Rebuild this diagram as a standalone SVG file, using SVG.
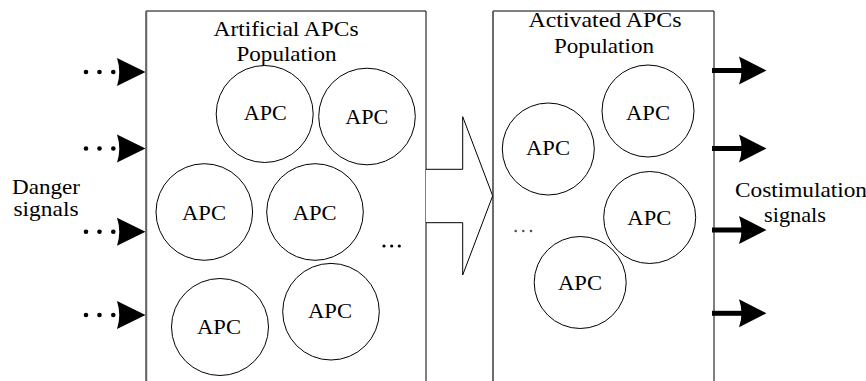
<svg xmlns="http://www.w3.org/2000/svg" width="866" height="381" viewBox="0 0 866 381">
<style>
text{font-family:'Liberation Serif','Times New Roman','DejaVu Serif',serif;font-size:21.5px;fill:#000}
.t{text-anchor:middle}
.cell{fill:#fff;stroke:#000;stroke-width:1}
.box{fill:none;stroke:#000;stroke-width:1}
.edge{stroke:#666;stroke-width:1.5;fill:none}
.dot{fill:#000}
.ah{fill:#000}
</style>
<rect width="866" height="381" fill="#fff"/>
<g id="artificial-population">
<path class="box" d="M146,382 V11 H426 V382"/>
<line class="edge" x1="146.5" y1="11" x2="146.5" y2="382"/>
<text class="t" x="286" y="36" textLength="145" lengthAdjust="spacingAndGlyphs">Artificial APCs</text>
<text class="t" x="286.5" y="61" textLength="100" lengthAdjust="spacingAndGlyphs">Population</text>
</g>
<g id="activated-population">
<path class="box" d="M493,382 V11 H714 V382"/>
<line class="edge" x1="493" y1="11" x2="493" y2="382"/>
<text class="t" x="605" y="27" textLength="153" lengthAdjust="spacingAndGlyphs">Activated APCs</text>
<text class="t" x="604" y="53" textLength="100" lengthAdjust="spacingAndGlyphs">Population</text>
</g>
<g id="apc-a1"><circle class="cell" cx="264.7" cy="114" r="48.5"/><text class="t" x="265.3" y="119.5" textLength="43" lengthAdjust="spacingAndGlyphs">APC</text></g>
<g id="apc-a2"><circle class="cell" cx="367" cy="116.5" r="48.3"/><text class="t" x="366.7" y="124" textLength="43" lengthAdjust="spacingAndGlyphs">APC</text></g>
<g id="apc-a3"><circle class="cell" cx="204.3" cy="212" r="48.3"/><text class="t" x="204" y="220" textLength="44" lengthAdjust="spacingAndGlyphs">APC</text></g>
<g id="apc-a4"><circle class="cell" cx="315" cy="212" r="48.3"/><text class="t" x="314.7" y="220" textLength="44" lengthAdjust="spacingAndGlyphs">APC</text></g>
<g id="apc-a5"><circle class="cell" cx="220" cy="327" r="48.5"/><text class="t" x="219" y="334" textLength="44" lengthAdjust="spacingAndGlyphs">APC</text></g>
<g id="apc-a6"><circle class="cell" cx="331" cy="311.7" r="48.3"/><text class="t" x="330" y="318" textLength="44" lengthAdjust="spacingAndGlyphs">APC</text></g>
<g id="more-a"><circle class="dot" cx="384" cy="246" r="1.6"/><circle class="dot" cx="391.7" cy="246" r="1.6"/><circle class="dot" cx="399.3" cy="246" r="1.6"/></g>
<g id="apc-b1"><circle class="cell" cx="648" cy="111" r="46"/><text class="t" x="648" y="120" textLength="44" lengthAdjust="spacingAndGlyphs">APC</text></g>
<g id="apc-b2"><circle class="cell" cx="548.3" cy="149" r="46"/><text class="t" x="548" y="155" textLength="44" lengthAdjust="spacingAndGlyphs">APC</text></g>
<g id="apc-b3"><circle class="cell" cx="649.7" cy="217.5" r="46"/><text class="t" x="649.3" y="225" textLength="44" lengthAdjust="spacingAndGlyphs">APC</text></g>
<g id="apc-b4"><circle class="cell" cx="580.2" cy="282.5" r="46"/><text class="t" x="580" y="290" textLength="44" lengthAdjust="spacingAndGlyphs">APC</text></g>
<g id="more-b" fill="#555"><circle cx="515.7" cy="231" r="1.3"/><circle cx="523.3" cy="231" r="1.3"/><circle cx="531" cy="231" r="1.3"/></g>
<g id="danger-label"><text class="t" x="46" y="194" textLength="68" lengthAdjust="spacingAndGlyphs">Danger</text><text class="t" x="46" y="216" textLength="65" lengthAdjust="spacingAndGlyphs">signals</text></g>
<g id="costim-label"><text class="t" x="801" y="197" textLength="132" lengthAdjust="spacingAndGlyphs">Costimulation</text><text class="t" x="795" y="222" textLength="62" lengthAdjust="spacingAndGlyphs">signals</text></g>
<g id="connectors">
<path id="transition-arrow" d="M426,169.3 H462.7 V116.7 L492.7,195.8 L462.7,275 V222.7 H426" fill="#fff" stroke="#000" stroke-width="1"/>
<g id="danger-inputs">
<g transform="translate(0,72)"><circle class="dot" cx="86" cy="0" r="2.3"/><circle class="dot" cx="99.5" cy="0" r="2.3"/><circle class="dot" cx="113.3" cy="0" r="2.3"/><path class="ah" d="M117,-14 L145.5,0 L117,14 Q121.5,0 117,-14 Z"/></g>
<g transform="translate(0,148.5)"><circle class="dot" cx="86" cy="0" r="2.3"/><circle class="dot" cx="99.5" cy="0" r="2.3"/><circle class="dot" cx="113.3" cy="0" r="2.3"/><path class="ah" d="M117,-14 L145.5,0 L117,14 Q121.5,0 117,-14 Z"/></g>
<g transform="translate(0,231.7)"><circle class="dot" cx="86" cy="0" r="2.3"/><circle class="dot" cx="99.5" cy="0" r="2.3"/><circle class="dot" cx="113.3" cy="0" r="2.3"/><path class="ah" d="M117,-14 L145.5,0 L117,14 Q121.5,0 117,-14 Z"/></g>
<g transform="translate(0,315)"><circle class="dot" cx="86" cy="0" r="2.3"/><circle class="dot" cx="99.5" cy="0" r="2.3"/><circle class="dot" cx="113.3" cy="0" r="2.3"/><path class="ah" d="M117,-14 L145.5,0 L117,14 Q121.5,0 117,-14 Z"/></g>
</g>
<g id="costim-outputs">
<g transform="translate(0,70.5)"><line x1="712" y1="0" x2="742" y2="0" stroke="#000" stroke-width="5"/><path class="ah" d="M739,-14 L766.5,0 L739,14 Q744,0 739,-14 Z"/></g>
<g transform="translate(0,148.5)"><line x1="712" y1="0" x2="742" y2="0" stroke="#000" stroke-width="5"/><path class="ah" d="M739,-14 L766.5,0 L739,14 Q744,0 739,-14 Z"/></g>
<g transform="translate(0,230)"><line x1="712" y1="0" x2="742" y2="0" stroke="#000" stroke-width="5"/><path class="ah" d="M739,-14 L766.5,0 L739,14 Q744,0 739,-14 Z"/></g>
<g transform="translate(0,313.3)"><line x1="712" y1="0" x2="742" y2="0" stroke="#000" stroke-width="5"/><path class="ah" d="M739,-14 L766.5,0 L739,14 Q744,0 739,-14 Z"/></g>
</g>
</g>
</svg>
